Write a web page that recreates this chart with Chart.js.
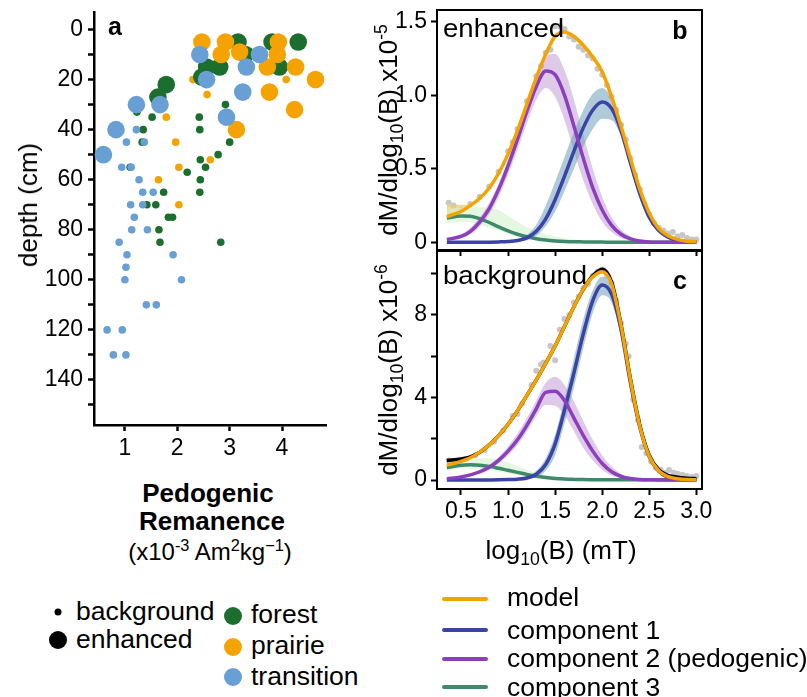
<!DOCTYPE html>
<html>
<head>
<meta charset="utf-8">
<script src="https://cdn.jsdelivr.net/npm/chart.js@4.4.1/dist/chart.umd.min.js"></script>
<style>
  body { margin: 0; background: #fff; }
  #page { position: relative; width: 807px; height: 697px; overflow: hidden; font-family: 'Liberation Sans', Arial, sans-serif; color: #000; }
  canvas { position: absolute; }
  .txt { position: absolute; white-space: nowrap; line-height: 1; transform-origin: left center; transform: translateY(-50%) scaleX(1.06); font-size: 25px; }
  .rot { position: absolute; white-space: nowrap; line-height: 1; font-size: 26px; transform: translate(-50%, -50%) rotate(-90deg); }
  .ctr { position: absolute; white-space: nowrap; line-height: 1; transform: translate(-50%, -50%); }
  .dot { position: absolute; border-radius: 50%; transform: translate(-50%, -50%); }
  .swatch { position: absolute; width: 46px; height: 4px; transform: translateY(-50%); border-radius: 2px; }
  sub, sup { font-size: 68%; line-height: 0; }
</style>
</head>
<body>
<div id="page">
  <canvas id="chartA" width="340" height="470" style="left:0;top:0"></canvas>
  <canvas id="chartC" width="400" height="330" style="left:330px;top:240px"></canvas>
  <canvas id="chartB" width="380" height="262" style="left:330px;top:0"></canvas>

  <div class="rot" style="left:28px;top:205px">depth (cm)</div>
  <div class="ctr" style="left:115px;top:26px;font-size:25px;font-weight:bold">a</div>
  <div class="ctr" style="left:208px;top:493px;font-size:26px;font-weight:bold">Pedogenic</div>
  <div class="ctr" style="left:212px;top:521px;font-size:26px;font-weight:bold">Remanence</div>
  <div class="ctr" style="left:210px;top:552px;font-size:24px">(x10<sup>-3</sup> Am<sup>2</sup>kg<sup>−1</sup>)</div>

  <div class="rot" style="left:388px;top:130px">dM/dlog<sub>10</sub>(B) x10<sup>-5</sup></div>
  <div class="rot" style="left:388px;top:370px">dM/dlog<sub>10</sub>(B) x10<sup>-6</sup></div>
  <div class="txt" style="left:443px;top:28px;font-size:26px">enhanced</div>
  <div class="ctr" style="left:680px;top:30px;font-size:25px;font-weight:bold">b</div>
  <div class="txt" style="left:443px;top:275px;font-size:26px">background</div>
  <div class="ctr" style="left:680px;top:280px;font-size:25px;font-weight:bold">c</div>
  <div class="ctr" style="left:561px;top:550px;font-size:26px">log<sub>10</sub>(B) (mT)</div>

  <div class="dot" style="left:58px;top:612px;width:7px;height:7px;background:#000"></div>
  <div class="txt" style="left:76px;top:611px">background</div>
  <div class="dot" style="left:58px;top:640px;width:18px;height:18px;background:#000"></div>
  <div class="txt" style="left:76px;top:639px">enhanced</div>
  <div class="dot" style="left:233px;top:616px;width:18px;height:18px;background:#1b6e2d"></div>
  <div class="txt" style="left:251px;top:614px">forest</div>
  <div class="dot" style="left:233px;top:647px;width:18px;height:18px;background:#f5a300"></div>
  <div class="txt" style="left:251px;top:645px">prairie</div>
  <div class="dot" style="left:233px;top:677px;width:18px;height:18px;background:#689fd4"></div>
  <div class="txt" style="left:251px;top:676px">transition</div>

  <div class="swatch" style="left:442px;top:599px;background:#f5a300"></div>
  <div class="txt" style="left:507px;top:597px">model</div>
  <div class="swatch" style="left:442px;top:630px;background:#3b43a6"></div>
  <div class="txt" style="left:507px;top:630px">component 1</div>
  <div class="swatch" style="left:442px;top:659px;background:#8c3fbd"></div>
  <div class="txt" style="left:507px;top:658px">component 2 (pedogenic)</div>
  <div class="swatch" style="left:442px;top:687px;background:#3f8a6b"></div>
  <div class="txt" style="left:507px;top:687px">component 3</div>
</div>

<script>
// ── panel a: remanence vs depth ──────────────────────────────────────────────
const remTicks = [1, 2, 3, 4];
const depthTicks = [0, 10, 20, 30, 40, 50, 60, 70, 80, 90, 100, 110, 120, 130, 140, 150];
const depthLabels = [0, 20, 40, 60, 80, 100, 120, 140];

const forestEnhRem = [3.16, 3.81, 4.31, 3.30, 2.47, 2.56, 2.81, 3.95, 1.79, 1.63];
const forestEnhDepth = [5, 5, 5, 10, 19, 15, 15, 15, 22, 27];
const prairieEnhRem = [2.47, 2.92, 3.93, 2.84, 3.19, 3.91, 3.72, 4.26, 4.64, 3.76, 4.24, 3.13];
const prairieEnhDepth = [5, 5, 5, 10, 9, 10, 15, 15, 20, 25, 32, 40];
const transEnhRem = [2.43, 3.57, 3.32, 2.56, 3.25, 1.22, 1.67, 2.94, 0.83, 0.59];
const transEnhDepth = [10, 10, 15, 20, 25, 30, 30, 35, 40, 50];

const forestBgRem = [1.23, 2.92, 1.52, 2.42, 1.35, 2.43, 1.33, 3.0, 2.78, 2.44, 1.10, 2.54, 2.19, 2.44, 1.74, 2.43, 1.42, 1.59, 1.83, 1.91, 1.65, 1.67, 2.83];
const forestBgDepth = [33, 30, 35, 35, 40, 40, 45, 45, 50, 52, 55, 55, 57, 60, 65, 65, 70, 70, 75, 75, 80, 85, 85];
const prairieBgRem = [2.30, 4.08, 2.57, 1.79, 1.97, 2.63, 2.03, 1.64, 2.03];
const prairieBgDepth = [20, 20, 26, 35, 45, 52, 55, 60, 70];
const transBgRem = [1.22, 1.03, 1.37, 0.94, 1.12, 1.27, 1.34, 1.54, 1.11, 1.34, 1.18, 1.13, 1.43, 0.89, 1.04, 1.92, 1.02, 1.00, 2.08, 1.41, 1.60, 0.66, 0.95, 0.78, 1.02];
const transBgDepth = [40, 45, 45, 55, 55, 60, 65, 65, 70, 70, 75, 80, 80, 85, 90, 90, 95, 100, 100, 110, 110, 120, 120, 130, 130];

// ── panels b, c: coercivity spectra ──────────────────────────────────────────
const logB = [0.35, 0.5, 0.6, 0.7, 0.8, 0.9, 1.0, 1.1, 1.2, 1.3, 1.4, 1.5, 1.6, 1.7, 1.8, 1.9, 2.0, 2.1, 2.2, 2.3, 2.4, 2.5, 2.6, 2.7, 2.8, 2.9, 3.0];
const fieldTicks = [0.5, 1.0, 1.5, 2.0, 2.5, 3.0];

const bModel = [0.175, 0.21, 0.25, 0.30, 0.37, 0.47, 0.60, 0.76, 0.94, 1.12, 1.28, 1.40, 1.43, 1.40, 1.34, 1.26, 1.16, 0.99, 0.79, 0.57, 0.36, 0.20, 0.095, 0.045, 0.02, 0.008, 0.004];
const bModelBandTop = [0.26, 0.255, 0.262];
const bComp1 = [0, 0, 0, 0, 0.001, 0.003, 0.006, 0.013, 0.03, 0.075, 0.16, 0.29, 0.45, 0.62, 0.78, 0.90, 0.955, 0.91, 0.76, 0.54, 0.33, 0.17, 0.08, 0.035, 0.012, 0.004, 0.001];
const bComp1Hi = [0, 0, 0, 0.001, 0.002, 0.005, 0.01, 0.022, 0.05, 0.12, 0.25, 0.41, 0.58, 0.75, 0.90, 1.01, 1.05, 0.98, 0.80, 0.57, 0.35, 0.18, 0.09, 0.04, 0.015, 0.005, 0.001];
const bComp1Lo = [0, 0, 0, 0, 0, 0, 0.003, 0.007, 0.015, 0.045, 0.11, 0.21, 0.35, 0.50, 0.65, 0.77, 0.84, 0.83, 0.72, 0.52, 0.31, 0.16, 0.075, 0.03, 0.01, 0.003, 0];
const bComp2 = [0.02, 0.04, 0.075, 0.14, 0.23, 0.36, 0.52, 0.70, 0.89, 1.06, 1.165, 1.14, 1.0, 0.79, 0.57, 0.37, 0.22, 0.115, 0.055, 0.023, 0.009, 0.003, 0.001, 0, 0, 0, 0];
const bComp2Hi = [0.03, 0.055, 0.1, 0.17, 0.27, 0.40, 0.56, 0.75, 0.95, 1.14, 1.26, 1.28, 1.17, 0.97, 0.73, 0.50, 0.31, 0.17, 0.085, 0.04, 0.015, 0.005, 0.002, 0, 0, 0, 0];
const bComp2Lo = [0.012, 0.03, 0.055, 0.11, 0.19, 0.31, 0.46, 0.63, 0.81, 0.97, 1.05, 0.99, 0.83, 0.62, 0.42, 0.26, 0.14, 0.07, 0.03, 0.012, 0.004, 0.001, 0, 0, 0, 0, 0];
const bComp3 = [0.165, 0.18, 0.178, 0.16, 0.135, 0.105, 0.078, 0.055, 0.038, 0.025, 0.016, 0.01, 0.006, 0.004, 0.003, 0.002, 0.002, 0.001, 0.001, 0.001, 0, 0, 0, 0, 0, 0, 0];
const bComp3Hi = [0.22, 0.235, 0.24, 0.24, 0.235, 0.22, 0.18, 0.14, 0.105, 0.078, 0.055, 0.04, 0.028, 0.02, 0.014, 0.01, 0.007, 0.005, 0.004, 0.003, 0.002, 0.002, 0.002, 0.002, 0.002, 0.002, 0.002];
const bComp3Lo = [0.13, 0.14, 0.135, 0.12, 0.10, 0.08, 0.06, 0.042, 0.028, 0.018, 0.012, 0.008, 0.005, 0.003, 0.002, 0.001, 0, 0, 0, 0, 0, 0, 0, 0, 0, 0, 0];
const bDataX = [0.37, 0.42, 0.5, 0.6, 0.7, 0.8, 0.9, 1.0, 1.05, 1.1, 1.2, 1.3, 1.35, 1.4, 1.45, 1.5, 1.55, 1.6, 1.65, 1.7, 1.75, 1.8, 1.85, 1.9, 1.95, 2.0, 2.05, 2.1, 2.15, 2.2, 2.25, 2.3, 2.35, 2.4, 2.45, 2.5, 2.55, 2.6, 2.65, 2.7, 2.75, 2.8, 2.85, 2.9, 2.95, 3.0];
const bDataY = [0.27, 0.25, 0.22, 0.26, 0.31, 0.38, 0.48, 0.62, 0.68, 0.77, 0.96, 1.13, 1.2, 1.29, 1.31, 1.47, 1.47, 1.45, 1.40, 1.38, 1.33, 1.31, 1.27, 1.25, 1.18, 1.14, 1.07, 0.99, 0.9, 0.8, 0.7, 0.57, 0.46, 0.36, 0.26, 0.19, 0.13, 0.1, 0.08, 0.06, 0.07, 0.04, 0.05, 0.03, 0.02, 0.02];

const cModel = [0.72, 0.9, 1.08, 1.35, 1.7, 2.15, 2.7, 3.35, 4.1, 4.85, 5.65, 6.5, 7.45, 8.4, 9.25, 9.85, 10.1, 9.5, 7.5, 4.85, 2.6, 1.15, 0.45, 0.16, 0.06, 0.02, 0.01];
const cSmooth = [0.95, 1.02, 1.12, 1.35, 1.7, 2.15, 2.7, 3.35, 4.1, 4.85, 5.65, 6.5, 7.45, 8.4, 9.25, 9.9, 10.22, 9.6, 7.55, 4.9, 2.65, 1.2, 0.5, 0.22, 0.14, 0.09, 0.06];
const cComp1 = [0, 0, 0, 0, 0.003, 0.008, 0.02, 0.04, 0.1, 0.28, 0.75, 1.75, 3.4, 5.2, 7.1, 8.7, 9.45, 9.0, 7.3, 4.7, 2.55, 1.12, 0.42, 0.13, 0.04, 0.01, 0];
const cComp1Hi = [0, 0, 0, 0.002, 0.006, 0.015, 0.035, 0.07, 0.17, 0.45, 1.05, 2.2, 3.95, 5.9, 7.8, 9.2, 9.85, 9.4, 7.7, 5.0, 2.75, 1.25, 0.48, 0.16, 0.05, 0.015, 0.005];
const cComp1Lo = [0, 0, 0, 0, 0, 0, 0.01, 0.02, 0.05, 0.15, 0.45, 1.2, 2.75, 4.5, 6.4, 8.1, 8.95, 8.6, 6.9, 4.4, 2.35, 1.0, 0.36, 0.1, 0.03, 0.01, 0];
const cComp2 = [0.05, 0.15, 0.25, 0.4, 0.62, 0.95, 1.4, 1.95, 2.65, 3.45, 4.25, 4.3, 3.85, 3.0, 2.15, 1.4, 0.8, 0.4, 0.18, 0.07, 0.025, 0.01, 0, 0, 0, 0, 0];
const cComp2Hi = [0.08, 0.2, 0.32, 0.5, 0.76, 1.12, 1.62, 2.25, 3.0, 3.85, 4.7, 5.0, 4.6, 3.8, 2.85, 1.95, 1.2, 0.65, 0.3, 0.12, 0.05, 0.02, 0.005, 0, 0, 0, 0];
const cComp2Lo = [0.03, 0.1, 0.18, 0.3, 0.5, 0.8, 1.2, 1.7, 2.35, 3.1, 3.65, 3.6, 3.15, 2.35, 1.55, 0.95, 0.5, 0.22, 0.09, 0.03, 0.01, 0, 0, 0, 0, 0, 0];
const cComp3 = [0.6, 0.72, 0.74, 0.72, 0.66, 0.57, 0.47, 0.37, 0.27, 0.18, 0.12, 0.075, 0.045, 0.03, 0.02, 0.015, 0.01, 0.01, 0.01, 0.01, 0.01, 0.01, 0.01, 0.01, 0.01, 0.01, 0.01];
const cComp3Hi = [0.82, 0.98, 1.03, 1.05, 1.04, 0.98, 0.85, 0.68, 0.5, 0.35, 0.24, 0.16, 0.1, 0.07, 0.05, 0.035, 0.025, 0.02, 0.015, 0.015, 0.015, 0.015, 0.015, 0.015, 0.015, 0.015, 0.015];
const cComp3Lo = [0.45, 0.55, 0.56, 0.54, 0.48, 0.4, 0.32, 0.24, 0.17, 0.11, 0.07, 0.04, 0.025, 0.015, 0.01, 0.005, 0, 0, 0, 0, 0, 0, 0, 0, 0, 0, 0];
const cDataX = [0.37, 0.45, 0.55, 0.65, 0.75, 0.85, 0.95, 1.05, 1.1, 1.15, 1.25, 1.3, 1.35, 1.38, 1.45, 1.5, 1.55, 1.6, 1.65, 1.7, 1.75, 1.8, 1.85, 1.9, 1.95, 2.0, 2.05, 2.1, 2.15, 2.2, 2.25, 2.28, 2.33, 2.38, 2.42, 2.47, 2.52, 2.57, 2.62, 2.67, 2.71, 2.76, 2.8, 2.85, 2.9, 2.95, 3.0];
const cDataY = [0.95, 0.9, 1.0, 1.2, 1.45, 1.85, 2.4, 3.1, 3.2, 3.7, 4.6, 5.3, 5.6, 5.7, 6.5, 5.8, 7.3, 7.8, 8.0, 8.6, 8.9, 9.3, 9.5, 9.9, 10.1, 10.2, 9.9, 9.55, 8.7, 7.6, 6.6, 6.0, 3.9, 2.9, 1.6, 1.3, 0.9, 0.6, 0.5, 0.35, 0.48, 0.35, 0.3, 0.25, 0.2, 0.15, 0.2];

const COLORS = {
  forest: '#1b6e2d',
  prairie: '#f5a300',
  transition: '#689fd4',
  model: '#f5a300',
  comp1: '#3b43a6',
  comp2: '#8c3fbd',
  comp3: '#3f8a6b',
  comp1Band: 'rgba(110,160,185,0.55)',
  comp2Band: 'rgba(185,135,205,0.45)',
  comp3Band: 'rgba(215,243,208,0.65)',
  modelBand: 'rgba(232,205,120,0.75)',
  data: '#c6c6c6'
};

Chart.defaults.font.family = "'Liberation Sans', Arial, sans-serif";
Chart.defaults.font.size = 23;
Chart.defaults.color = '#000';

const framePlugin = {
  id: 'frame',
  afterDatasetsDraw(chart) {
    const { ctx, chartArea: a } = chart;
    ctx.save();
    ctx.strokeStyle = '#000';
    ctx.lineWidth = 2;
    ctx.strokeRect(a.left, a.top, a.right - a.left, a.bottom - a.top);
    ctx.restore();
  }
};

function pairs(xs, ys) {
  return xs.map((x, i) => ({ x, y: ys[i] }));
}

function lineDs(ys, color, width) {
  return { data: pairs(logB, ys), borderColor: color, borderWidth: width, pointRadius: 0, fill: false, cubicInterpolationMode: 'monotone' };
}

function bandDs(hi, lo, color) {
  return [
    { data: pairs(logB, hi), borderWidth: 0, pointRadius: 0, backgroundColor: color, fill: '+1', cubicInterpolationMode: 'monotone' },
    { data: pairs(logB, lo), borderWidth: 0, pointRadius: 0, fill: false, cubicInterpolationMode: 'monotone' }
  ];
}

function dotsDs(xs, ys, color, radius) {
  return { data: pairs(xs, ys), showLine: false, pointRadius: radius, pointBackgroundColor: color, pointBorderWidth: 0, borderWidth: 0 };
}

function axisGrid(width) {
  return { drawOnChartArea: false, drawTicks: true, tickLength: 6, tickWidth: width, tickColor: '#000' };
}

// fixed axis size, and no extra room for overhanging tick labels
function fixSize(prop, size) {
  return (s) => {
    s[prop] = size;
    s.paddingTop = 0;
    s.paddingBottom = 0;
    s.paddingLeft = 0;
    s.paddingRight = 0;
  };
}

// panel a
new Chart(document.getElementById('chartA'), {
  type: 'scatter',
  data: {
    datasets: [
      dotsDs(transEnhRem, transEnhDepth, COLORS.transition, 8.8),
      dotsDs(prairieEnhRem, prairieEnhDepth, COLORS.prairie, 8.8),
      dotsDs(forestEnhRem, forestEnhDepth, COLORS.forest, 8.8),
      dotsDs(transBgRem, transBgDepth, COLORS.transition, 3.8),
      dotsDs(prairieBgRem, prairieBgDepth, COLORS.prairie, 3.8),
      dotsDs(forestBgRem, forestBgDepth, COLORS.forest, 3.8)
    ]
  },
  options: {
    responsive: false,
    animation: false,
    devicePixelRatio: 1,
    layout: { autoPadding: false, padding: { top: 12, right: 14, bottom: 0, left: 0 } },
    plugins: { legend: { display: false }, tooltip: { enabled: false } },
    scales: {
      x: {
        type: 'linear', min: 0.41, max: 4.84,
        afterBuildTicks: (s) => { s.ticks = remTicks.map((v) => ({ value: v })); },
        afterFit: fixSize('height', 45),
        ticks: { autoSkip: false, maxRotation: 0, padding: 4 },
        grid: axisGrid(2.5),
        border: { display: true, color: '#000', width: 2.5 }
      },
      y: {
        type: 'linear', reverse: true, min: -7, max: 158,
        afterBuildTicks: (s) => { s.ticks = depthTicks.map((v) => ({ value: v })); },
        afterFit: fixSize('width', 94),
        ticks: { autoSkip: false, padding: 5, callback: (v) => (depthLabels.includes(v) ? String(v) : '') },
        grid: axisGrid(2.5),
        border: { display: true, color: '#000', width: 2.5 }
      }
    }
  }
});

function spectrumOptions(cfg) {
  return {
    responsive: false,
    animation: false,
    devicePixelRatio: 1,
    layout: { autoPadding: false, padding: { top: cfg.padTop, right: cfg.padRight, bottom: 0, left: 0 } },
    plugins: { legend: { display: false }, tooltip: { enabled: false } },
    scales: {
      x: {
        type: 'linear', min: 0.2454, max: 3.06,
        afterBuildTicks: (s) => { s.ticks = fieldTicks.map((v) => ({ value: v })); },
        afterFit: fixSize('height', cfg.xHeight),
        ticks: { autoSkip: false, maxRotation: 0, padding: 3, callback: (v) => (cfg.xLabels ? v.toFixed(1) : '') },
        grid: axisGrid(2),
        border: { display: true, color: '#000', width: 2 }
      },
      y: {
        type: 'linear', min: cfg.yMin, max: cfg.yMax,
        afterBuildTicks: (s) => { s.ticks = cfg.yTicks.map((v) => ({ value: v })); },
        afterFit: fixSize('width', 107),
        ticks: { autoSkip: false, padding: 4, callback: cfg.yLabel },
        grid: axisGrid(2),
        border: { display: true, color: '#000', width: 2 }
      }
    }
  };
}

// panel b: enhanced
new Chart(document.getElementById('chartB'), {
  type: 'line',
  data: {
    datasets: [
      lineDs(bModel, COLORS.model, 3.5),
      lineDs(bComp2, COLORS.comp2, 3.5),
      lineDs(bComp1, COLORS.comp1, 3.5),
      lineDs(bComp3, COLORS.comp3, 3.5),
      ...bandDs(bComp1Hi, bComp1Lo, COLORS.comp1Band),
      ...bandDs(bComp2Hi, bComp2Lo, COLORS.comp2Band),
      ...bandDs(bComp3Hi, bComp3Lo, COLORS.comp3Band),
      ...bandDs(bModelBandTop.concat(bModel.slice(3)), bModel, COLORS.modelBand),
      dotsDs(bDataX, bDataY, COLORS.data, 3)
    ]
  },
  options: spectrumOptions({
    padTop: 10, padRight: 8, xHeight: 12, xLabels: false,
    yMin: -0.052, yMax: 1.58, yTicks: [0, 0.5, 1.0, 1.5],
    yLabel: (v) => (v === 0 ? '0' : v.toFixed(1))
  }),
  plugins: [framePlugin]
});

// panel c: background
new Chart(document.getElementById('chartC'), {
  type: 'line',
  data: {
    datasets: [
      lineDs(cModel, COLORS.model, 3.5),
      lineDs(cSmooth, '#000', 3.5),
      lineDs(cComp2, COLORS.comp2, 3.5),
      lineDs(cComp1, COLORS.comp1, 3.5),
      lineDs(cComp3, COLORS.comp3, 3.5),
      ...bandDs(cComp1Hi, cComp1Lo, COLORS.comp1Band),
      ...bandDs(cComp2Hi, cComp2Lo, COLORS.comp2Band),
      ...bandDs(cComp3Hi, cComp3Lo, COLORS.comp3Band),
      dotsDs(cDataX, cDataY, COLORS.data, 3)
    ]
  },
  options: spectrumOptions({
    padTop: 11, padRight: 28, xHeight: 81, xLabels: true,
    yMin: -0.436, yMax: 11.1, yTicks: [0, 2, 4, 6, 8, 10],
    yLabel: (v) => ([0, 4, 8].includes(v) ? String(v) : '')
  }),
  plugins: [framePlugin]
});
</script>
</body>
</html>
